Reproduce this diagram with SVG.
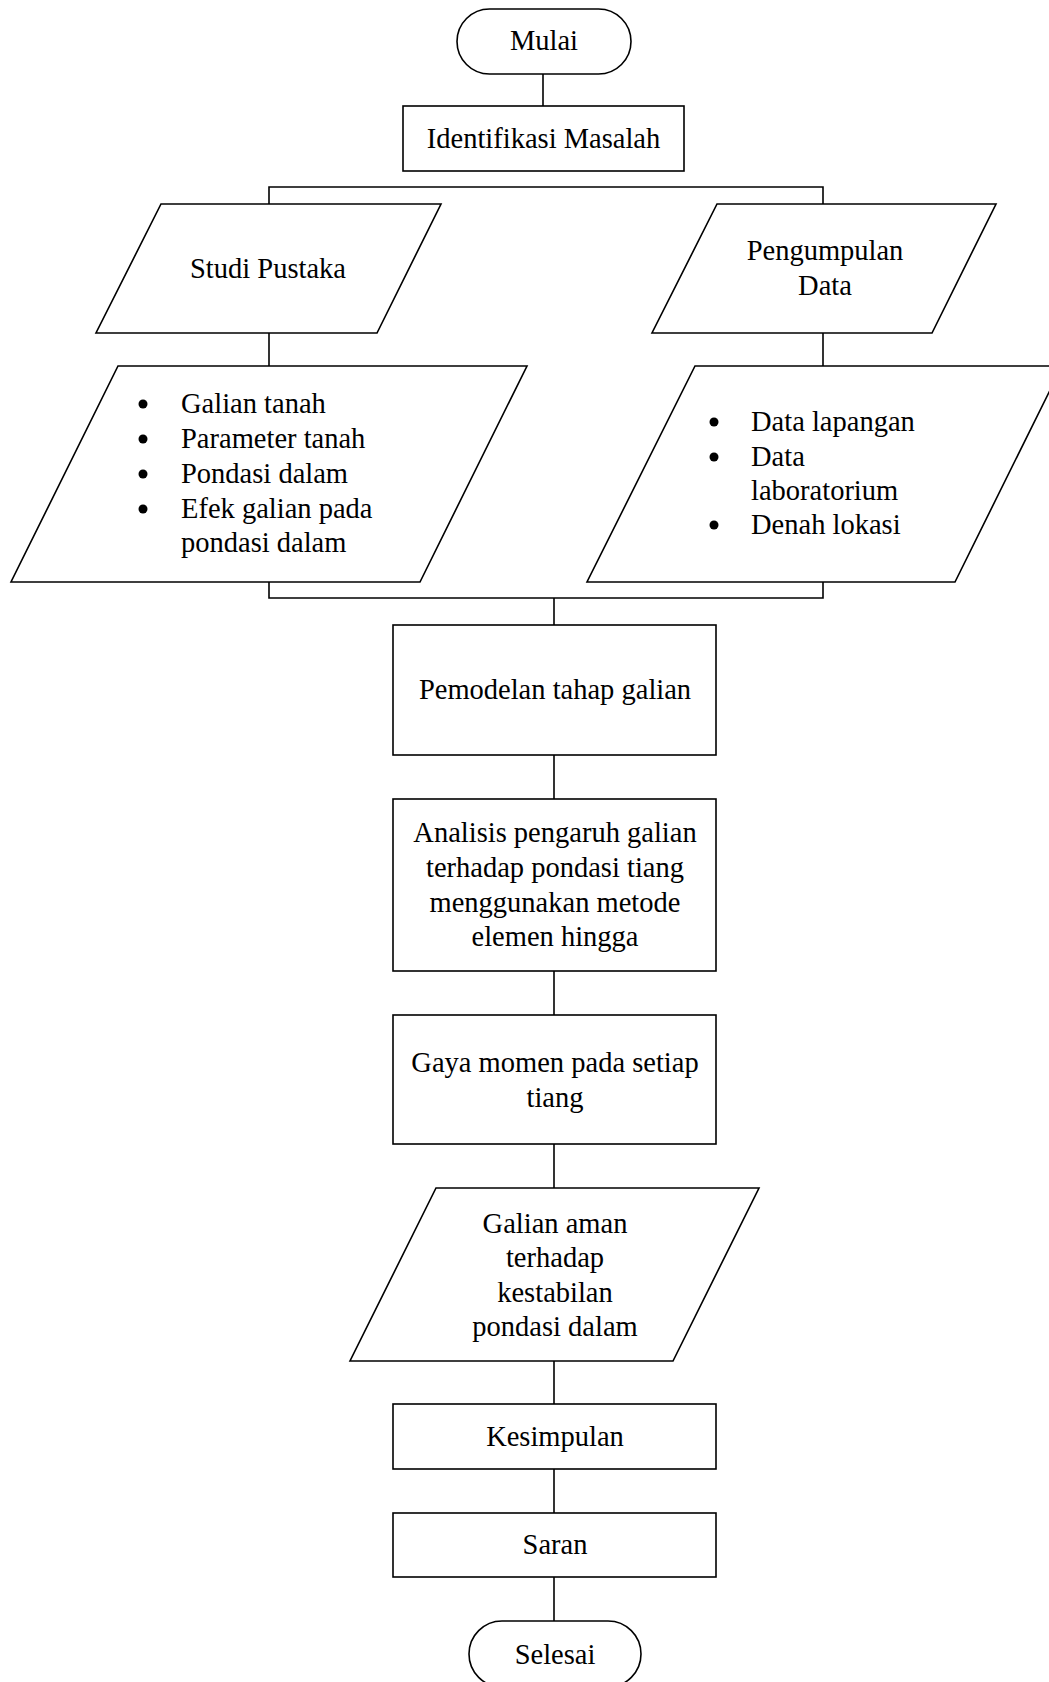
<svg xmlns="http://www.w3.org/2000/svg" width="1049" height="1682" viewBox="0 0 1049 1682">
<style>
.s{fill:#fff;stroke:#000;stroke-width:1.6}
.c{fill:none;stroke:#000;stroke-width:1.6}
text{font-family:"Liberation Serif","Times New Roman",serif;font-size:28.5px;fill:#000}
.m{text-anchor:middle}
</style>
<rect width="1049" height="1682" fill="#fff"/>
<g id="connectors">
<line class="c" x1="543" y1="74" x2="543" y2="106"/>
<polyline class="c" points="269,204 269,187 823,187 823,204"/>
<line class="c" x1="269" y1="333" x2="269" y2="366"/>
<line class="c" x1="823" y1="333" x2="823" y2="366"/>
<polyline class="c" points="269,582 269,598 823,598 823,582"/>
<line class="c" x1="554" y1="598" x2="554" y2="625"/>
<line class="c" x1="554" y1="755" x2="554" y2="799"/>
<line class="c" x1="554" y1="971" x2="554" y2="1015"/>
<line class="c" x1="554" y1="1144" x2="554" y2="1188"/>
<line class="c" x1="554" y1="1361" x2="554" y2="1404"/>
<line class="c" x1="554" y1="1469" x2="554" y2="1513"/>
<line class="c" x1="554" y1="1577" x2="554" y2="1621"/>
</g>
<g id="mulai">
<rect class="s" x="457" y="9" width="174" height="65" rx="32.5"/>
<text class="m" x="544" y="50">Mulai</text>
</g>
<g id="identifikasi">
<rect class="s" x="403" y="106" width="281" height="65"/>
<text class="m" x="543.5" y="148">Identifikasi Masalah</text>
</g>
<g id="studi">
<polygon class="s" points="161,204 441,204 377,333 96,333"/>
<text class="m" x="268" y="278">Studi Pustaka</text>
</g>
<g id="studi-list">
<polygon class="s" points="118,366 527,366 420,582 11,582"/>
<circle cx="143" cy="404" r="4.5"/>
<circle cx="143" cy="439" r="4.5"/>
<circle cx="143" cy="474" r="4.5"/>
<circle cx="143" cy="509" r="4.5"/>
<text x="181" y="413">Galian tanah</text>
<text x="181" y="448">Parameter tanah</text>
<text x="181" y="483">Pondasi dalam</text>
<text x="181" y="518">Efek galian pada</text>
<text x="181" y="552">pondasi dalam</text>
</g>
<g id="pengumpulan">
<polygon class="s" points="717,204 996,204 932,333 652,333"/>
<text class="m" x="825" y="260">Pengumpulan</text>
<text class="m" x="825" y="295">Data</text>
</g>
<g id="data-list">
<polygon class="s" points="695,366 1062,366 955,582 587,582"/>
<circle cx="714" cy="422" r="4.5"/>
<circle cx="714" cy="457" r="4.5"/>
<circle cx="714" cy="525" r="4.5"/>
<text x="751" y="431">Data lapangan</text>
<text x="751" y="466">Data</text>
<text x="751" y="500">laboratorium</text>
<text x="751" y="534">Denah lokasi</text>
</g>
<g id="pemodelan">
<rect class="s" x="393" y="625" width="323" height="130"/>
<text class="m" x="555" y="699">Pemodelan tahap galian</text>
</g>
<g id="analisis">
<rect class="s" x="393" y="799" width="323" height="172"/>
<text class="m" x="555" y="842">Analisis pengaruh galian</text>
<text class="m" x="555" y="877">terhadap pondasi tiang</text>
<text class="m" x="555" y="912">menggunakan metode</text>
<text class="m" x="555" y="946">elemen hingga</text>
</g>
<g id="gaya">
<rect class="s" x="393" y="1015" width="323" height="129"/>
<text class="m" x="555" y="1072">Gaya momen pada setiap</text>
<text class="m" x="555" y="1107">tiang</text>
</g>
<g id="galian-aman">
<polygon class="s" points="436,1188 759,1188 673,1361 350,1361"/>
<text class="m" x="555" y="1233">Galian aman</text>
<text class="m" x="555" y="1267">terhadap</text>
<text class="m" x="555" y="1302">kestabilan</text>
<text class="m" x="555" y="1336">pondasi dalam</text>
</g>
<g id="kesimpulan">
<rect class="s" x="393" y="1404" width="323" height="65"/>
<text class="m" x="555" y="1446">Kesimpulan</text>
</g>
<g id="saran">
<rect class="s" x="393" y="1513" width="323" height="64"/>
<text class="m" x="555" y="1554">Saran</text>
</g>
<g id="selesai">
<rect class="s" x="469" y="1621" width="172" height="66" rx="33"/>
<text class="m" x="555" y="1664">Selesai</text>
</g>
</svg>
